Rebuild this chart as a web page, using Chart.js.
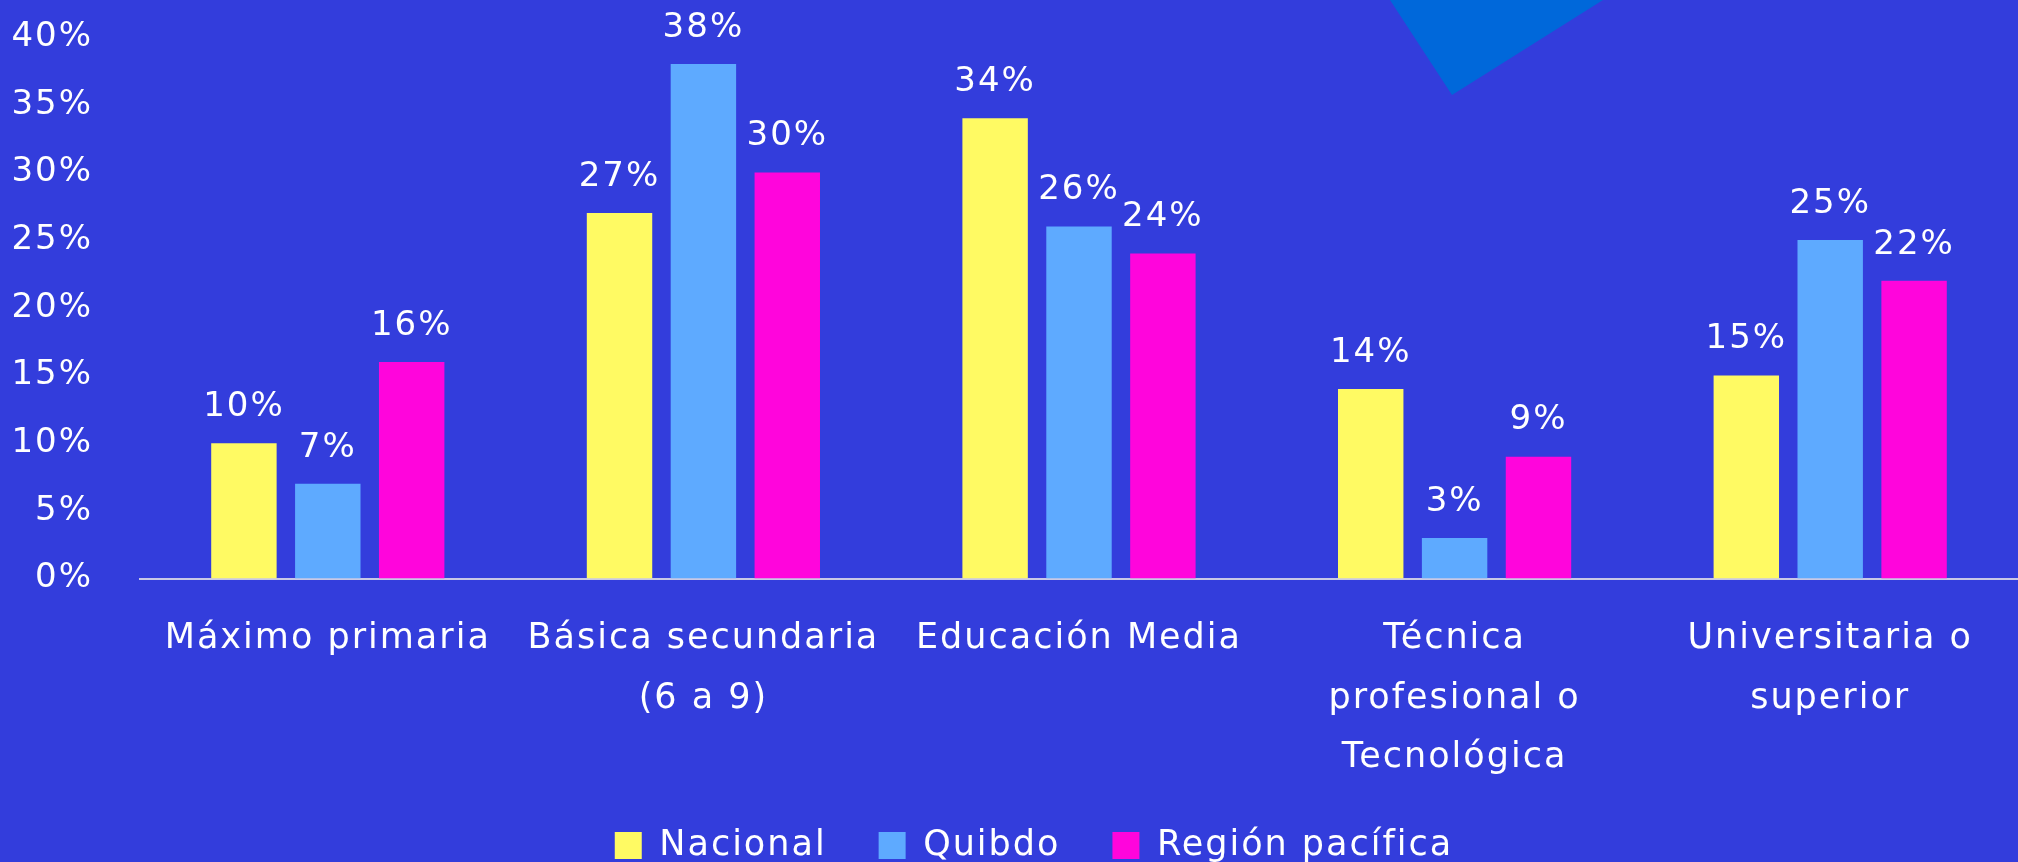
<!DOCTYPE html>
<html>
<head>
<meta charset="utf-8">
<script src="https://cdn.jsdelivr.net/npm/chart.js@4"></script>
<style>
  html, body { margin: 0; padding: 0; background: #333ddc; }
  canvas { display: block; }
</style>
</head>
<body>
<canvas id="chart" width="2018" height="862"></canvas>
<script>
// education level categories
const categories = [
    "Máximo primaria",
    ["Básica secundaria", "(6 a 9)"],
    "Educación Media",
    ["Técnica", "profesional o", "Tecnológica"],
    ["Universitaria o", "superior"]
];
const nacional = [10, 27, 34, 14, 15];
const quibdo = [7, 38, 26, 3, 25];
const regionPacifica = [16, 30, 24, 9, 22];
const yTicks = [0, 5, 10, 15, 20, 25, 30, 35, 40];

const font = "'DejaVu Sans', sans-serif";
Chart.defaults.color = "#ffffff";
Chart.defaults.font.family = font;

// the original text is a bit spaced out
const spacingPlugin = {
    id: "spacing",
    beforeUpdate(chart) { chart.ctx.letterSpacing = "2px"; },
    beforeDraw(chart) { chart.ctx.letterSpacing = "2px"; },
    afterLayout(chart) {
        // legend sits a little right of the canvas centre
        chart.legend.left += 25;
        chart.legend.right += 25;
    }
};

// background + the blue corner shape
const bgPlugin = {
    id: "bg",
    beforeDraw(chart) {
        const ctx = chart.ctx;
        ctx.save();
        ctx.fillStyle = "#333ddc";
        ctx.fillRect(0, 0, chart.width, chart.height);
        ctx.fillStyle = "#0068da";
        ctx.beginPath();
        ctx.moveTo(1390, 0);
        ctx.lineTo(1603, 0);
        ctx.lineTo(1452, 95);
        ctx.closePath();
        ctx.fill();
        ctx.restore();
    }
};

// value labels over bars
const valuePlugin = {
    id: "values",
    afterDatasetsDraw(chart) {
        const ctx = chart.ctx;
        ctx.save();
        ctx.fillStyle = "#ffffff";
        ctx.font = "34px " + font;
        ctx.textAlign = "center";
        ctx.textBaseline = "middle";
        chart.data.datasets.forEach((ds, i) => {
            chart.getDatasetMeta(i).data.forEach((bar, j) => {
                ctx.fillText(ds.data[j] + "%", bar.x, bar.y - 36);
            });
        });
        ctx.restore();
    }
};

let ctx = document.getElementById("chart").getContext("2d");
new Chart(ctx, {
    type: "bar",
    data: {
        labels: categories,
        datasets: [
            { label: "Nacional", data: nacional, backgroundColor: "#fffa63" },
            { label: "Quibdo", data: quibdo, backgroundColor: "#5eaaff" },
            { label: "Región pacífica", data: regionPacifica, backgroundColor: "#ff05dc" }
        ]
    },
    options: {
        responsive: false,
        animation: false,
        categoryPercentage: 0.67,
        barPercentage: 0.78,
        layout: { padding: { top: 0, left: 0, right: 0, bottom: -11 } },
        plugins: {
            tooltip: { enabled: false },
            legend: {
                position: "bottom",
                labels: {
                    boxWidth: 27,
                    boxHeight: 27,
                    padding: 52,
                    font: { size: 35 }
                }
            }
        },
        scales: {
            x: {
                grid: { display: false, drawTicks: false },
                border: { display: true, color: "#c8c8e6", width: 2 },
                ticks: {
                    padding: 31,
                    maxRotation: 0,
                    autoSkip: false,
                    font: { size: 35, lineHeight: 1.7 }
                },
                afterFit(axis) { axis.height -= 43; }
            },
            y: {
                min: 0,
                max: 40,
                afterBuildTicks(axis) {
                    axis.ticks = yTicks.map(v => ({ value: v }));
                },
                grid: { display: false, drawTicks: false },
                border: { display: false },
                ticks: {
                    padding: 47,
                    font: { size: 34 },
                    callback: v => v + "%"
                },
                afterFit(axis) {
                    axis.width = 140;
                    axis.paddingTop = 37;
                    axis.paddingBottom = 0;
                }
            }
        }
    },
    plugins: [spacingPlugin, bgPlugin, valuePlugin]
});
</script>
</body>
</html>
